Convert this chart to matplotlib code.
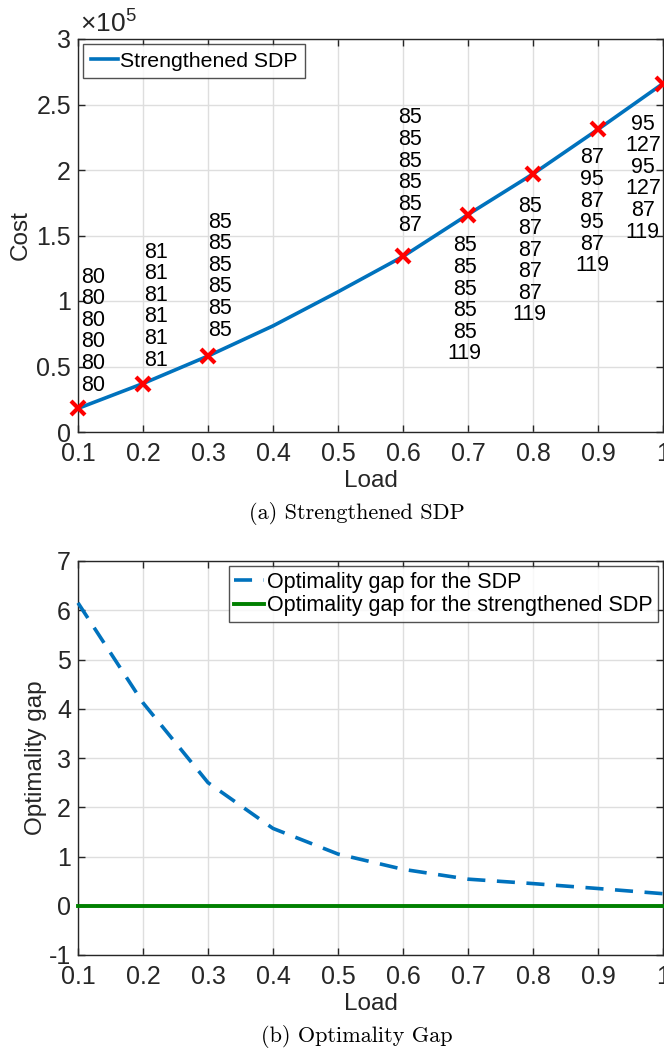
import matplotlib
matplotlib.use("Agg")
import matplotlib.pyplot as plt
import numpy as np

plt.rcParams['font.family'] = ['Liberation Sans', 'DejaVu Sans']
plt.rcParams['axes.unicode_minus'] = False
plt.rcParams['mathtext.fontset'] = 'custom'
plt.rcParams['mathtext.rm'] = 'Liberation Sans'

# ---------------- data ----------------
load = [0.1, 0.2, 0.3, 0.4, 0.5, 0.6, 0.7, 0.8, 0.9, 1.0]
cost = [0.18, 0.37, 0.58, 0.81, 1.07, 1.34, 1.66, 1.97, 2.31, 2.66]   # x 1e5
marker_load = [0.1, 0.2, 0.3, 0.6, 0.7, 0.8, 0.9, 1.0]
marker_cost = [0.18, 0.37, 0.58, 1.34, 1.66, 1.97, 2.31, 2.66]

label_cols = [
    ["80", "80", "80", "80", "80", "80"],
    ["81", "81", "81", "81", "81", "81"],
    ["85", "85", "85", "85", "85", "85"],
    ["85", "85", "85", "85", "85", "87"],
    ["85", "85", "85", "85", "85", "119"],
    ["85", "87", "87", "87", "87", "119"],
    ["87", "95", "87", "95", "87", "119"],
    ["95", "127", "95", "127", "87", "119"],
]
label_x = [0.123, 0.22, 0.318, 0.611, 0.695, 0.795, 0.891, 0.969]
label_top = [1.183, 1.374, 1.603, 2.397, 1.42, 1.718, 2.092, 2.351]

gap_sdp = [6.15, 4.12, 2.5, 1.57, 1.05, 0.74, 0.54, 0.45, 0.35, 0.245]
gap_strong = [0, 0, 0, 0, 0, 0, 0, 0, 0, 0]

x_ticks = [0.1, 0.2, 0.3, 0.4, 0.5, 0.6, 0.7, 0.8, 0.9, 1.0]
x_ticklabels = ["0.1", "0.2", "0.3", "0.4", "0.5", "0.6", "0.7", "0.8", "0.9", "1"]
cost_ticks = [0, 0.5, 1, 1.5, 2, 2.5, 3]
cost_ticklabels = ["0", "0.5", "1", "1.5", "2", "2.5", "3"]
gap_ticks = [-1, 0, 1, 2, 3, 4, 5, 6, 7]
gap_ticklabels = ["-1", "0", "1", "2", "3", "4", "5", "6", "7"]

# ---------------- style ----------------
BLUE = (0, 0.447, 0.741)
GREEN = (0, 0.5, 0)
AXC = (0.15, 0.15, 0.15)
TICK_FS = 18
LABEL_FS = 17.5
LEG_FS = 15.3

fig = plt.figure(figsize=(6.64, 10.48), dpi=100)
W, H = 664, 1048


def style_axes(ax):
    ax.grid(True, color=(0.87, 0.87, 0.87), linewidth=1.0)
    ax.set_axisbelow(True)
    for s in ax.spines.values():
        s.set_color(AXC)
        s.set_linewidth(1.0)
    ax.tick_params(direction='in', length=5, width=1.0, colors=AXC,
                   labelsize=TICK_FS, top=True, right=True, pad=5)
    ax.tick_params(axis='x', pad=7)
    ax.set_xlim(0.1, 1.0)
    ax.set_xticks(x_ticks)
    ax.set_xticklabels(x_ticklabels)


# ---------------- top panel ----------------
ax1 = fig.add_axes([78 / W, 1 - 432 / H, 585 / W, (432 - 39) / H])
style_axes(ax1)
ax1.plot(load, cost, color=BLUE, lw=2.6, label='Strengthened SDP', zorder=3,
         clip_on=False)
ax1.plot(marker_load, marker_cost, linestyle='none', marker='x', color='red',
         markersize=10, markeredgewidth=3, zorder=4, clip_on=False)
ax1.set_ylim(0, 3)
ax1.set_yticks(cost_ticks)
ax1.set_yticklabels(cost_ticklabels)
ax1.set_xlabel('Load', fontsize=LABEL_FS, color=AXC, labelpad=3)
ax1.set_ylabel('Cost', fontsize=LABEL_FS, color=AXC, labelpad=3)
ax1.text(0.004, 1.006, r'$\times10^{5}$', transform=ax1.transAxes,
         fontsize=19, color=AXC, ha='left', va='bottom')

for col, lx, ly in zip(label_cols, label_x, label_top):
    for i, s in enumerate(col):
        ax1.annotate(s, xy=(lx, ly), xytext=(0, -21.6 * i),
                     textcoords='offset pixels', ha='center', va='center',
                     fontsize=15.5, color='black', zorder=5)

leg1 = ax1.legend(loc='upper left', fontsize=LEG_FS, frameon=True, fancybox=False,
                  handlelength=1.3, handletextpad=0.1, borderpad=0.35,
                  borderaxespad=0.25, edgecolor=AXC)
leg1.get_frame().set_linewidth(1.0)

fig.text(357 / W, 1 - 513 / H, '(a) Strengthened SDP', family='cmr10',
         fontsize=16, ha='center', va='center')

# ---------------- bottom panel ----------------
ax2 = fig.add_axes([78 / W, 1 - 955 / H, 585 / W, (955 - 561) / H])
style_axes(ax2)
ax2.plot(load, gap_sdp, color=BLUE, lw=2.6, dashes=(5, 3.2),
         label='Optimality gap for the SDP', zorder=3, clip_on=False)
ax2.plot(load, gap_strong, color=GREEN, lw=2.8,
         label='Optimality gap for the strengthened SDP', zorder=3, clip_on=False)
ax2.set_ylim(-1, 7)
ax2.set_yticks(gap_ticks)
ax2.set_yticklabels(gap_ticklabels)
ax2.set_xlabel('Load', fontsize=LABEL_FS, color=AXC, labelpad=3)
ax2.set_ylabel('Optimality gap', fontsize=LABEL_FS, color=AXC, labelpad=1)
leg2 = ax2.legend(loc='upper right', fontsize=15.5, frameon=True, fancybox=False,
                  handlelength=1.4, handletextpad=0.1, borderpad=0.25,
                  borderaxespad=0.25, edgecolor=AXC, labelspacing=0.12)
leg2.get_frame().set_linewidth(1.0)

fig.text(357 / W, 1 - 1036 / H, '(b) Optimality Gap', family='cmr10',
         fontsize=16, ha='center', va='center')

fig.savefig('out.png', dpi=100)
